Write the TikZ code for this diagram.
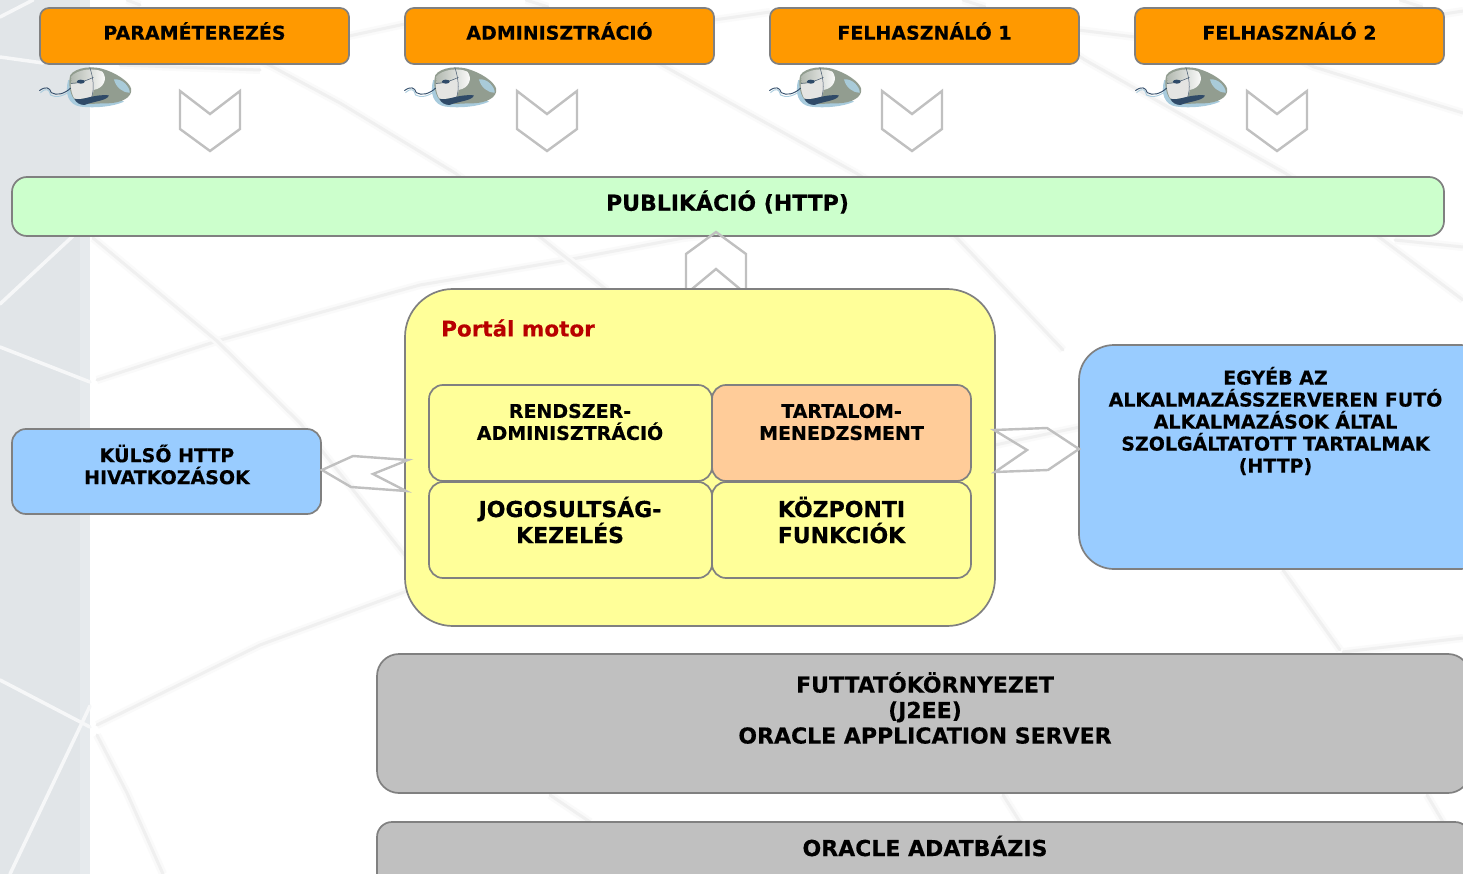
\documentclass[tikz,border=0pt]{standalone}
\usepackage{fontspec}
\setmainfont[BoldFeatures={FakeBold=0.35}]{DejaVu Sans}
\definecolor{band}{HTML}{E1E5E8}
\definecolor{bandedge}{HTML}{E6EAED}
\definecolor{wm}{HTML}{F0F0F0}
\definecolor{wmsoft}{HTML}{FAFAFA}
\definecolor{bordergray}{HTML}{808080}
\definecolor{chev}{HTML}{C0C0C0}
\definecolor{orangebox}{HTML}{FF9900}
\definecolor{greenbox}{HTML}{CCFFCC}
\definecolor{yellowbox}{HTML}{FFFF99}
\definecolor{peachbox}{HTML}{FFCC99}
\definecolor{bluebox}{HTML}{99CCFF}
\definecolor{graybox}{HTML}{C0C0C0}
\definecolor{redtext}{HTML}{B80000}
\definecolor{mbody}{HTML}{929D90}
\definecolor{mlight}{HTML}{E4E4E2}
\definecolor{mblue}{HTML}{A9CBD9}
\definecolor{mdark}{HTML}{2F4A68}
\definecolor{mshadow}{HTML}{A8CBDD}
\tikzset{
  x=1pt,y=-1pt,
  boxbase/.style={draw=bordergray,line width=1.7pt,inner sep=0pt,outer sep=0pt},
  lab/.style={inner sep=0pt,align=center,text=black,font=\bfseries},
  wmline/.style={draw=wm,line width=3pt,line cap=round,line join=round,
     preaction={draw=wmsoft,line width=8pt}},
  wmwhite/.style={draw=white!70!band,line width=3.5pt,line cap=round},
  blockarrow/.style={draw=chev,line width=2.4pt,line join=miter},
}
\newcommand{\bx}[7]{% name x1 y1 x2 y2 radius fill
  \node[boxbase,fill=#7,rounded corners=#6,minimum width={(#4-#2)*1pt},minimum height={(#5-#3)*1pt}]
    (#1) at ({(#2+#4)/2},{(#3+#5)/2}) {};}
\newcommand{\lb}[6]{% name x y size leading text
  \node[lab,font=\fontsize{#4}{#5}\selectfont\bfseries] (#1) at (#2,#3) {#6};}
\newcommand{\mousepic}[1]{%
 \begin{scope}[shift={(#1,60)},x=.36pt,y=-.3333pt]
  \fill[mshadow] (95,60) .. controls (85,100) and (95,135) .. (130,140) .. controls (170,145) and (220,140) .. (250,125) -- (200,100) -- cycle;
  \fill[mbody] (101,45) .. controls (115,22) and (165,15) .. (200,30) .. controls (240,45) and (275,75) .. (270,95)
     .. controls (265,120) and (230,132) .. (190,130) .. controls (160,132) and (125,135) .. (112,118) .. controls (98,100) and (95,65) .. (101,45) -- cycle;
  \shade[left color=mbody!60!mlight,right color=white] (103,50) .. controls (120,28) and (165,22) .. (190,35) .. controls (205,55) and (195,85) .. (165,90) .. controls (140,95) and (120,100) .. (106,80) -- cycle;
  \fill[mlight] (102,72) .. controls (125,72) and (150,62) .. (165,54) .. controls (170,80) and (165,100) .. (160,112) .. controls (140,116) and (122,118) .. (112,116) .. controls (104,100) and (102,85) .. (102,72) -- cycle;
  \fill[mblue] (222,58) .. controls (245,55) and (266,80) .. (266,98) .. controls (245,98) and (228,82) .. (222,58) -- cycle;
  \fill[mdark] (112,116) .. controls (135,124) and (160,102) .. (208,106) .. controls (205,122) and (165,124) .. (140,135) .. controls (128,135) and (116,128) .. (112,116) -- cycle;
  \draw[mdark!70!gray,line width=.5pt] (155,22) .. controls (165,55) and (168,85) .. (160,112);
  \draw[mdark!70!gray,line width=.5pt] (103,70) .. controls (125,70) and (150,60) .. (165,52);
  \fill[mdark] (130,65) ellipse (11 and 6);
  \draw[mshadow,line width=.9pt] (18,98) .. controls (35,82) and (42,88) .. (46,105) .. controls (60,115) and (85,108) .. (100,92);
  \draw[mdark,line width=.9pt] (15,92) .. controls (32,78) and (44,82) .. (48,98) .. controls (62,108) and (85,102) .. (102,84);
 \end{scope}}
\begin{document}
\begin{tikzpicture}
\useasboundingbox (0,0) rectangle (1463,874);
\clip (0,0) rectangle (1463,874);
\fill[white] (0,0) rectangle (1463,874);
% watermark background
\fill[band] (0,0) rectangle (80,874);
\fill[bandedge] (80,0) rectangle (90,874);
\foreach \p in {
 {(97,380) -- (217,341) -- (420,285) -- (567,260) -- (683,238) -- (900,215)},
 {(93,238) -- (217,341) -- (300,423) -- (407,558)},
 {(97,725) -- (260,645) -- (407,591)},
 {(97,735) -- (127,793) -- (163,874)},
 {(230,45) -- (273,67) -- (340,103) -- (455,173) -- (540,237) -- (607,290)},
 {(620,30) -- (662,65) -- (856,173) -- (956,237) -- (1063,350)},
 {(1040,30) -- (1085,60) -- (1285,173) -- (1379,237) -- (1463,300)},
 {(1240,30) -- (1314,67) -- (1463,113)},
 {(526,0) -- (548,7)},{(963,0) -- (985,7)},{(1400,0) -- (1422,7)},{(127,0) -- (140,5)},
 {(349,36) -- (405,24)},{(714,20) -- (770,12)},{(1078,30) -- (1135,37)},{(1444,14) -- (1463,11)},
 {(120,65) -- (260,70)},
 {(1395,240) -- (1463,247)},
 {(1283,570) -- (1340,650)},{(1343,652) -- (1463,638)},
 {(1003,795) -- (1020,822)},{(1427,795) -- (1443,822)},{(550,795) -- (590,822)},
 {(995,445) -- (1080,427)}
}{\draw[wmline] \p;}
\foreach \p in {
 {(0,304) -- (73,236)},{(0,347) -- (90,382)},{(0,680) -- (90,727)},{(90,706) -- (10,874)},
 {(0,57) -- (43,63)},{(0,17) -- (33,0)}
}{\draw[wmwhite] \p;}
% top boxes
\bx{para}{40}{8}{349}{64}{9pt}{orangebox}
\bx{admin}{405}{8}{714}{64}{9pt}{orangebox}
\bx{felh1}{770}{8}{1079}{64}{9pt}{orangebox}
\bx{felh2}{1135}{8}{1444}{64}{9pt}{orangebox}
\lb{tpara}{194.5}{31}{19}{22}{PARAMÉTEREZÉS}
\lb{tadmin}{559.5}{31}{19}{22}{ADMINISZTRÁCIÓ}
\lb{tfelh1}{924.5}{31}{19}{22}{FELHASZNÁLÓ 1}
\lb{tfelh2}{1289.5}{31}{19}{22}{FELHASZNÁLÓ 2}
\mousepic{34}\mousepic{399}\mousepic{764}\mousepic{1130}
% down chevrons
\foreach \dx in {0,337,702,1067}{
 \begin{scope}[shift={(\dx,0)}]
 \draw[blockarrow] (180,91) -- (210,114) -- (240,91) -- (240,129) -- (210,151) -- (180,129) -- cycle;
 \end{scope}}
% publication
\bx{pub}{12}{177}{1444}{236}{15pt}{greenbox}
\lb{tpub}{727.5}{202}{22}{26}{PUBLIKÁCIÓ (HTTP)}
% up chevron
\draw[blockarrow] (686,296) -- (686,254) -- (716,232) -- (746,254) -- (746,296);
\draw[blockarrow] (686,294) -- (716,269) -- (746,294);
% portal
\bx{portal}{405}{289}{995}{626}{48pt}{yellowbox}
\node[lab,text=redtext,anchor=west,font=\fontsize{21.5}{26}\selectfont\bfseries] (tportal) at (441,328) {Portál motor};
\bx{rendszer}{429}{385}{712}{481}{14pt}{yellowbox}
\bx{tartalom}{712}{385}{971}{481}{14pt}{peachbox}
\bx{jog}{429}{482}{712}{578}{14pt}{yellowbox}
\bx{kozp}{712}{482}{971}{578}{14pt}{yellowbox}
\lb{trendszer}{570}{422}{19}{22}{RENDSZER-\\ADMINISZTRÁCIÓ}
\lb{ttartalom}{841.5}{422}{19}{22}{TARTALOM-\\MENEDZSMENT}
\lb{tjog}{570}{520}{22}{26}{JOGOSULTSÁG-\\KEZELÉS}
\lb{tkozp}{841.5}{520}{22}{26}{KÖZPONTI\\FUNKCIÓK}
% side boxes
\bx{kulso}{12}{429}{321}{514}{14pt}{bluebox}
\lb{tkulso}{167}{464.5}{19}{22}{KÜLSŐ HTTP\\HIVATKOZÁSOK}
\bx{egyeb}{1079}{345}{1495}{569}{35pt}{bluebox}
\lb{tegyeb}{1275.5}{421}{19}{22}{EGYÉB AZ\\ALKALMAZÁSSZERVEREN FUTÓ\\ALKALMAZÁSOK ÁLTAL\\SZOLGÁLTATOTT TARTALMAK\\(HTTP)}
% side arrows
\draw[blockarrow] (322,470) -- (353,456) -- (408,460) -- (373,474) -- (406,491) -- (351,487) -- cycle;
\draw[blockarrow] (994,430) -- (1047,428) -- (1079,449) -- (1048,470) -- (995,472) -- (1027,450) -- cycle;
% bottom
\bx{futt}{377}{654}{1470}{793}{22pt}{graybox}
\lb{tfutt}{925}{708}{22}{25.5}{FUTTATÓKÖRNYEZET\\(J2EE)\\ORACLE APPLICATION SERVER}
\bx{ora}{377}{822}{1470}{905}{15pt}{graybox}
\lb{tora}{925}{846}{22}{26}{ORACLE ADATBÁZIS}
\end{tikzpicture}
\end{document}
